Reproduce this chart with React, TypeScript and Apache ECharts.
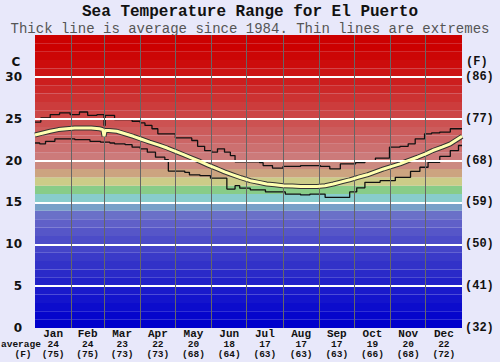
import React, { useEffect, useRef } from 'react';
import * as echarts from 'echarts';

const months = ['Jan', 'Feb', 'Mar', 'Apr', 'May', 'Jun', 'Jul', 'Aug', 'Sep', 'Oct', 'Nov', 'Dec'];
const monthDays = [31, 28, 31, 30, 31, 30, 31, 31, 30, 31, 30, 31];
const monthAvgC = [24, 24, 23, 22, 20, 18, 17, 17, 17, 19, 20, 22];
const monthAvgF = [75, 75, 73, 73, 68, 64, 63, 63, 63, 66, 68, 72];

const cTicks = [0, 5, 10, 15, 20, 25, 30];
const fTicks = [32, 41, 50, 59, 68, 77, 86];

// average (thick line): day of year, °C
const avgDays = [0, 7, 13, 20, 27, 34, 41, 48, 55, 58, 59, 60, 63, 70, 77, 84, 91, 98, 106, 113, 120, 127, 134, 141, 148, 156, 162, 169, 176, 184, 191, 198, 205, 212, 220, 227, 234, 241, 248, 255, 262, 269, 276, 284, 291, 298, 305, 312, 319, 327, 334, 340, 348, 355, 360, 365];
const avgVals = [23.05, 23.3, 23.5, 23.7, 23.8, 23.9, 23.9, 23.9, 23.8, 23.7, 22.9, 23.6, 23.6, 23.5, 23.2, 22.9, 22.55, 22.2, 21.85, 21.5, 21.1, 20.7, 20.3, 19.9, 19.45, 19.0, 18.65, 18.3, 17.95, 17.6, 17.4, 17.2, 17.1, 17.0, 16.95, 16.9, 16.9, 16.9, 17.0, 17.2, 17.45, 17.7, 18.0, 18.3, 18.65, 19.0, 19.3, 19.6, 20.0, 20.4, 20.8, 21.2, 21.6, 22.0, 22.45, 22.9];

// extreme maximum (thin line, stepped)
const maxDays = [0, 5, 13, 21, 30, 38, 45, 53, 59, 60, 68, 83, 90, 94, 100, 105, 120, 134, 139, 145, 151, 156, 162, 167, 171, 192, 195, 203, 212, 227, 244, 252, 261, 274, 282, 291, 303, 312, 319, 325, 333, 339, 346, 355, 365];
const maxVals = [24.6, 25.1, 25.5, 25.7, 25.5, 25.8, 25.4, 25.5, 24.2, 25.4, 24.9, 24.7, 24.5, 24.2, 23.8, 23.2, 22.7, 22.4, 21.7, 21.2, 21.0, 21.4, 21.0, 20.6, 19.85, 19.75, 19.4, 19.1, 19.3, 19.4, 19.3, 19.0, 19.6, 19.75, 19.9, 20.3, 21.6, 21.7, 22.0, 22.6, 23.2, 23.3, 23.4, 23.8, 23.8];

// extreme minimum (thin line, stepped)
const minDays = [0, 4, 9, 17, 34, 47, 56, 64, 68, 77, 83, 90, 96, 103, 111, 114, 128, 132, 141, 150, 164, 171, 175, 184, 197, 214, 227, 235, 248, 269, 275, 282, 295, 308, 321, 329, 336, 346, 355, 362, 365];
const minVals = [22.1, 22.0, 22.3, 22.6, 22.5, 22.3, 22.2, 22.1, 22.0, 21.9, 21.6, 21.4, 21.0, 20.4, 20.1, 18.75, 18.6, 18.3, 18.2, 17.9, 16.6, 17.0, 16.7, 16.5, 16.25, 16.0, 15.9, 16.0, 15.6, 16.25, 16.75, 17.4, 17.6, 18.0, 18.7, 19.2, 19.8, 20.5, 21.2, 21.8, 21.8];

// background colour bands, one per 1 °C from 0 upward
const bandColors = [
  '#0000cc', '#0606cc', '#0c0ccc', '#1414cc', '#1a1acb',
  '#2222c8', '#2a2ac8', '#3232c8', '#3a3ac8', '#4444c8',
  '#4c4cc8', '#5656c8', '#6060c8', '#6a70c8', '#78a0c8',
  '#88cccc', '#88cc88', '#cccc88', '#cca480', '#cc8a80',
  '#cc7a7a', '#cc7070', '#cc6666', '#cc5c5c', '#cc5252',
  '#cc4646', '#cc3c3c', '#cc3232', '#cc2828', '#cc1e1e',
  '#cc1414', '#cc0c0c', '#cc0606', '#cc0000', '#cc0000',
];

const monthStarts: number[] = [];
const monthMids: number[] = [];
{
  let acc = 0;
  monthDays.forEach((d) => {
    monthStarts.push(acc);
    monthMids.push(acc + d / 2);
    acc += d;
  });
}

const mono = '"Liberation Mono", "DejaVu Sans Mono", monospace';

export default function App() {
  const ref = useRef<HTMLDivElement>(null);
  useEffect(() => {
    const chart = echarts.init(ref.current!, undefined, { renderer: 'svg' });
    const option: any = {
      animation: false,
      backgroundColor: '#e8e8fa',
      grid: { left: 35, right: 38, top: 35, bottom: 34 },
      xAxis: {
        type: 'value',
        min: 0,
        max: 365,
        axisLine: { show: false },
        axisTick: { show: false },
        splitLine: { show: false },
        axisLabel: {
          customValues: monthMids,
          margin: 0,
          formatter: (v: number) => {
            const i = monthMids.findIndex((m) => Math.abs(m - v) < 0.01);
            if (i < 0) return '';
            return `{m|${months[i]}}\n{a|${monthAvgC[i]}}\n{a|(${monthAvgF[i]})}`;
          },
          rich: {
            m: { fontFamily: mono, fontWeight: 'bold', fontSize: 11, lineHeight: 11, color: '#111' },
            a: { fontFamily: mono, fontWeight: 'bold', fontSize: 9.5, lineHeight: 10, color: '#111' },
          },
        },
      },
      yAxis: [
        {
          type: 'value',
          min: 0,
          max: 35,
          interval: 5,
          position: 'left',
          axisLine: { show: false },
          axisTick: { show: false },
          splitLine: { show: false },
          axisLabel: {
            margin: 13,
            fontFamily: '"DejaVu Sans", sans-serif',
            fontWeight: 'bold',
            fontSize: 12,
            color: '#111',
            formatter: (v: number) => (cTicks.includes(v) ? String(v) : ''),
          },
        },
        {
          type: 'value',
          min: 0,
          max: 35,
          interval: 5,
          position: 'right',
          axisLine: { show: false },
          axisTick: { show: false },
          splitLine: { show: false },
          axisLabel: {
            margin: 3,
            fontFamily: mono,
            fontWeight: 'bold',
            fontSize: 12,
            color: '#111',
            formatter: (v: number) => {
              const i = cTicks.indexOf(v);
              return i >= 0 ? `(${fTicks[i]})` : '';
            },
          },
        },
      ],
      graphic: [
        {
          type: 'text', x: 250, y: 12,
          style: { text: 'Sea Temperature Range for El Puerto', font: `bold 16px ${mono}`, fill: '#111', align: 'center', verticalAlign: 'middle' },
        },
        {
          type: 'text', x: 250, y: 28.5,
          style: { text: 'Thick line is average since 1984. Thin lines are extremes', font: `14px ${mono}`, fill: '#555', align: 'center', verticalAlign: 'middle' },
        },
        { type: 'text', x: 16, y: 62, style: { text: 'C', font: 'bold 12px "DejaVu Sans", sans-serif', fill: '#111', align: 'center', verticalAlign: 'middle' } },
        { type: 'text', x: 466, y: 62, style: { text: '(F)', font: `bold 12px ${mono}`, fill: '#111', align: 'left', verticalAlign: 'middle' } },
        { type: 'text', x: 1, y: 344, style: { text: 'average', font: `bold 9.5px ${mono}`, fill: '#111', align: 'left', verticalAlign: 'middle' } },
        { type: 'text', x: 23, y: 354, style: { text: '(F)', font: `bold 9.5px ${mono}`, fill: '#111', align: 'center', verticalAlign: 'middle' } },
      ],
      series: [
        {
          type: 'line',
          name: 'bands',
          data: [],
          silent: true,
          z: 1,
          markArea: {
            silent: true,
            data: bandColors.map((c, i) => [
              { yAxis: i, itemStyle: { color: c, opacity: 1 } },
              { yAxis: i + 1 },
            ]),
          },
        },
        {
          type: 'line',
          name: 'grid',
          data: [],
          silent: true,
          z: 2,
          markLine: {
            silent: true,
            symbol: 'none',
            label: { show: false },
            data: [
              ...cTicks.filter((v) => v > 0).map((v) => ({ yAxis: v, lineStyle: { color: '#ffffff', width: 2, type: 'solid' } })),
              ...monthStarts.filter((d) => d > 0).map((d) => ({ xAxis: d, lineStyle: { color: '#666666', width: 1, type: 'solid' } })),
            ],
          },
        },
        {
          type: 'line',
          name: 'max',
          step: 'end',
          showSymbol: false,
          z: 3,
          data: maxDays.map((d, i) => [d, maxVals[i]]),
          lineStyle: { color: '#111', width: 1.3 },
        },
        {
          type: 'line',
          name: 'min',
          step: 'end',
          showSymbol: false,
          z: 3,
          data: minDays.map((d, i) => [d, minVals[i]]),
          lineStyle: { color: '#111', width: 1.3 },
        },
        {
          type: 'line',
          name: 'avgOutline',
          showSymbol: false,
          z: 4,
          data: avgDays.map((d, i) => [d, avgVals[i]]),
          lineStyle: { color: '#333', width: 5 },
        },
        {
          type: 'line',
          name: 'avg',
          showSymbol: false,
          z: 5,
          data: avgDays.map((d, i) => [d, avgVals[i]]),
          lineStyle: { color: '#ffffb0', width: 3 },
        },
      ],
    };
    chart.setOption(option);
    return () => chart.dispose();
  }, []);
  return <div ref={ref} style={{ position: 'fixed', left: 0, top: 0, width: 500, height: 362 }} />;
}
